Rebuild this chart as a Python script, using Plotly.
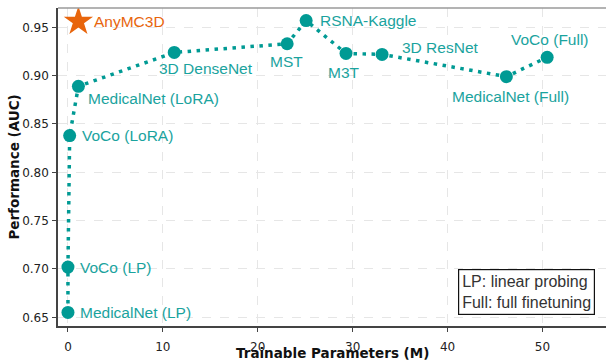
import plotly.graph_objects as go

# ---- data ----
models = ["MedicalNet (LP)", "VoCo (LP)", "VoCo (LoRA)", "MedicalNet (LoRA)", "3D DenseNet",
          "MST", "RSNA-Kaggle", "M3T", "3D ResNet", "MedicalNet (Full)", "VoCo (Full)"]
params_m = [0.0, 0.0, 0.18, 1.1, 11.2, 23.1, 25.1, 29.3, 33.1, 46.2, 50.5]
auc = [0.655, 0.702, 0.838, 0.889, 0.924, 0.933, 0.957, 0.923, 0.922, 0.899, 0.919]

ours_name = "AnyMC3D"
ours_params = [1.1]
ours_auc = [0.956]

x_ticks = [0, 10, 20, 30, 40, 50]
y_ticks = [0.65, 0.70, 0.75, 0.80, 0.85, 0.90, 0.95]

x_title = "Trainable Parameters (M)"
y_title = "Performance (AUC)"

# ---- label placement (pixel offsets) ----
label_style = {
    "MedicalNet (LP)": ("left", 10, 0),
    "VoCo (LP)": ("left", 10, 0),
    "VoCo (LoRA)": ("left", 10, 0),
    "MedicalNet (LoRA)": ("left", 8, -12),
    "3D DenseNet": ("left", -17, -16),
    "MST": ("center", -1, -18),
    "RSNA-Kaggle": ("left", 12, 0),
    "M3T": ("center", -2, -19),
    "3D ResNet": ("left", 18, 7),
    "MedicalNet (Full)": ("center", 4, -20),
    "VoCo (Full)": ("center", 3, 18),
}

TEAL = "#009a94"
TEAL_TXT = "#1aa39e"
ORANGE = "#e8650c"
LABEL_FONT = "Liberation Sans, Arial, sans-serif"

fig = go.Figure()
fig.add_trace(go.Scatter(
    x=params_m, y=auc, mode="lines+markers",
    line=dict(color=TEAL, width=3.5, dash="3.5px,5.5px"),
    marker=dict(color=TEAL, size=13, symbol="circle"),
    hoverinfo="skip", showlegend=False,
))
fig.add_trace(go.Scatter(
    x=ours_params, y=ours_auc, mode="markers",
    marker=dict(color=ORANGE, size=22, symbol="star"),
    hoverinfo="skip", showlegend=False,
))

for name, xv, yv in zip(models, params_m, auc):
    anchor, dx, dy = label_style[name]
    fig.add_annotation(x=xv, y=yv, text=name, showarrow=False,
                       xanchor=anchor, yanchor="middle", xshift=dx, yshift=dy,
                       font=dict(family=LABEL_FONT, size=15.5, color=TEAL_TXT))

fig.add_annotation(x=ours_params[0], y=ours_auc[0], text=ours_name, showarrow=False,
                   xanchor="left", yanchor="middle", xshift=14, yshift=0,
                   font=dict(family=LABEL_FONT, size=15.5, color=ORANGE))

fig.add_annotation(xref="paper", yref="paper", x=0.9805, y=0.036,
                   xanchor="right", yanchor="bottom", align="left",
                   text="LP: linear probing<br>Full: full finetuning", showarrow=False,
                   font=dict(family=LABEL_FONT, size=16, color="#333333"),
                   bgcolor="white", bordercolor="#111111", borderwidth=1.2, borderpad=3)

# axis titles
title_font = dict(family="DejaVu Sans", size=13.5, color="#111111")
fig.add_annotation(xref="paper", yref="paper", x=0.5, y=-0.085, xanchor="center", yanchor="middle",
                   text=f"<b>{x_title}</b>", showarrow=False, font=title_font)
fig.add_annotation(xref="paper", yref="paper", x=-0.081, y=0.5, xanchor="center", yanchor="middle",
                   text=f"<b>{y_title}</b>", showarrow=False, textangle=-90, font=title_font)

# top spine (lighter)
fig.add_shape(type="line", xref="paper", yref="paper", x0=0, x1=1, y0=1, y1=1,
              line=dict(color="#9a9a9a", width=1.5))

tick_font = dict(family="DejaVu Sans", size=12, color="#222222")
fig.update_layout(
    width=606, height=360,
    margin=dict(l=58, r=0, t=8, b=34, autoexpand=False),
    plot_bgcolor="white", paper_bgcolor="white",
    xaxis=dict(range=[-1.05, 56.7], tickvals=x_ticks, ticktext=[str(v) for v in x_ticks],
               showgrid=True, gridcolor="#e6e6e6", griddash="dash", gridwidth=1,
               showline=True, linecolor="#444444", linewidth=1.5,
               ticks="outside", ticklen=4, tickcolor="#444444", tickfont=tick_font,
               ticklabelstandoff=5, zeroline=False),
    yaxis=dict(range=[0.641, 0.970], tickvals=y_ticks, ticktext=[f"{v:.2f}" for v in y_ticks],
               showgrid=True, gridcolor="#e6e6e6", griddash="dash", gridwidth=1,
               showline=True, linecolor="#444444", linewidth=1.5,
               ticks="outside", ticklen=4, tickcolor="#444444", tickfont=tick_font,
               ticklabelstandoff=1, zeroline=False),
)

fig.write_html("out.html", config={"displayModeBar": False},
               post_script="document.body.style.margin='0';document.body.style.overflow='hidden';")
